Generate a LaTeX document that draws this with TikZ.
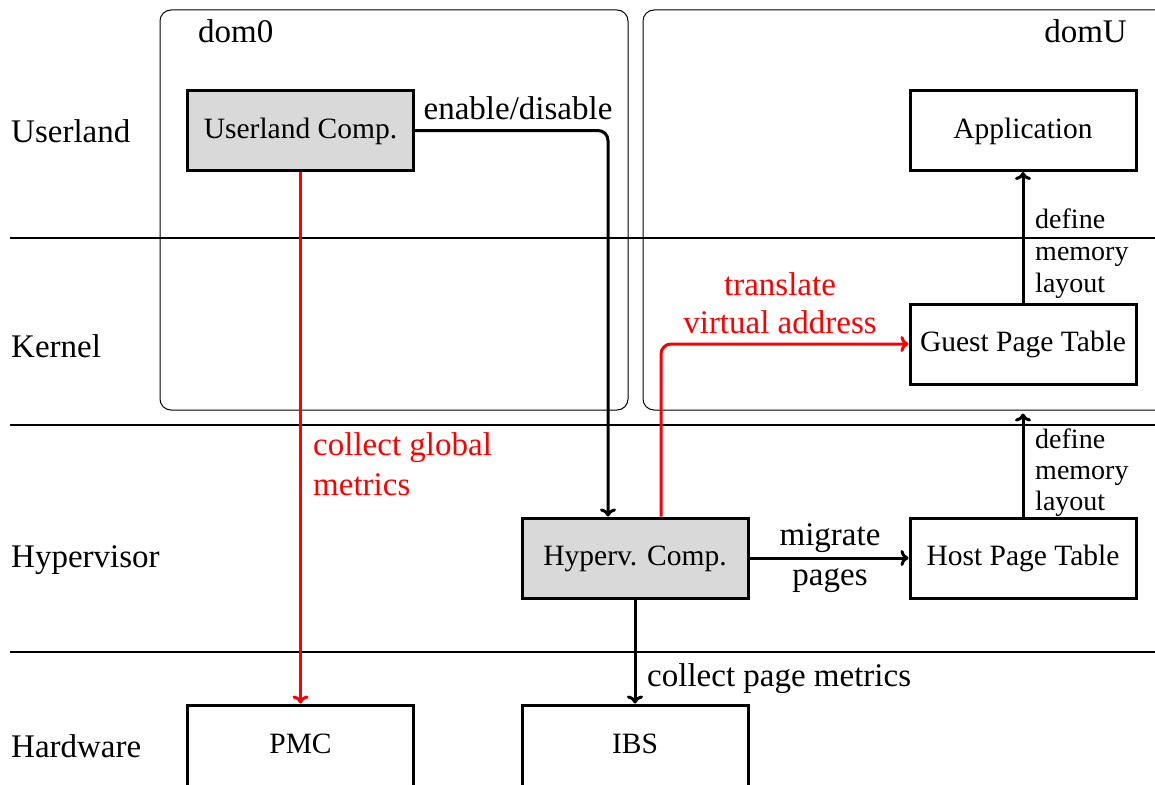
\documentclass[tikz,border=0pt]{standalone}
\usepackage{fontspec}
\setmainfont{Liberation Serif}
\usetikzlibrary{arrows.meta}
\definecolor{compgray}{RGB}{217,217,217}
\definecolor{pured}{RGB}{255,0,0}
\tikzset{
  box/.style={draw, line width=3pt, minimum width=226pt, minimum height=80pt, inner sep=0pt,
    font=\fontsize{29.5}{35}\selectfont, text height=20pt, text depth=5pt},
  comp/.style={box, fill=compgray},
  lbl/.style={font=\fontsize{33}{40}\selectfont, inner sep=0pt},
  smalllbl/.style={font=\fontsize{28}{32}\selectfont, inner sep=0pt},
  conn/.style={line width=3pt, -{To[length=8pt,width=16pt]}, rounded corners=10pt},
  redconn/.style={conn, draw=pured},
  seprule/.style={line width=2pt},
  container/.style={line width=1pt, rounded corners=11pt},
}
\begin{document}
\begin{tikzpicture}[x=1pt,y=-1pt]
\useasboundingbox (0,0) rectangle (1155,784);

% containers
\draw[container] (160,10) rectangle (628,410);
\draw[container] (643,10) rectangle (1170,410);
\node[lbl, anchor=base west] (dom0) at (198,43) {dom0};
\node[lbl, anchor=base east] (domU) at (1127,42) {domU};

% separators
\coordinate (s1a) at (10,238); \coordinate (s1b) at (1160,238);
\coordinate (s2a) at (10,425); \coordinate (s2b) at (1160,425);
\coordinate (s3a) at (10,652); \coordinate (s3b) at (1160,652);
\draw[seprule] (s1a) -- (s1b);
\draw[seprule] (s2a) -- (s2b);
\draw[seprule] (s3a) -- (s3b);

% layer labels
\node[lbl, anchor=base west] (lUser) at (11,142) {Userland};
\node[lbl, anchor=base west] (lKern) at (11,357) {Kernel};
\node[lbl, anchor=base west] (lHyp) at (11,567) {Hypervisor};
\node[lbl, anchor=base west] (lHw) at (11,757) {Hardware};

% boxes
\node[comp] (uc) at (300.5,130.5) {Userland Comp.};
\node[box] (app) at (1023,130.5) {Application};
\node[box] (gpt) at (1023,344) {Guest Page Table};
\node[box] (hpt) at (1023,558) {Host Page Table};
\node[comp] (hc) at (635,558) {Hyperv. Comp.};
\node[box, minimum height=82pt] (pmc) at (300.5,746) {PMC};
\node[box, minimum height=82pt] (ibs) at (635,746) {IBS};

% connectors
\draw[conn] (uc.east) -| ([xshift=-27pt]hc.north);
\node[lbl, anchor=base] (lEn) at (518,119) {enable/disable};

\draw[redconn] (uc.south) -- (pmc.north);
\node[lbl, anchor=base west, text=pured] (lCg1) at (313,455) {collect global};
\node[lbl, anchor=base west, text=pured] (lCg2) at (313,495) {metrics};

\draw[redconn] ([xshift=26pt]hc.north) |- (gpt.west);
\node[lbl, anchor=base, text=pured] (lTr1) at (780,295) {translate};
\node[lbl, anchor=base, text=pured] (lTr2) at (780,333) {virtual address};

\draw[conn] (hc.east) -- (hpt.west);
\node[lbl, anchor=base] (lMg1) at (830,545) {migrate};
\node[lbl, anchor=base] (lMg2) at (830,585) {pages};

\draw[conn] (hc.south) -- (ibs.north);
\node[lbl, anchor=base west] (lCp) at (647,686) {collect page metrics};

\coordinate (gptin) at ([yshift=-28pt]gpt.south);
\draw[conn] (hpt.north) -- (gptin);
\node[smalllbl, anchor=base west] (lDa1) at (1035,448) {define};
\node[smalllbl, anchor=base west] (lDa2) at (1035,479) {memory};
\node[smalllbl, anchor=base west] (lDa3) at (1035,510) {layout};

\draw[conn] (gpt.north) -- (app.south);
\node[smalllbl, anchor=base west] (lDb1) at (1035,228) {define};
\node[smalllbl, anchor=base west] (lDb2) at (1035,260) {memory};
\node[smalllbl, anchor=base west] (lDb3) at (1035,292) {layout};
\end{tikzpicture}
\end{document}
